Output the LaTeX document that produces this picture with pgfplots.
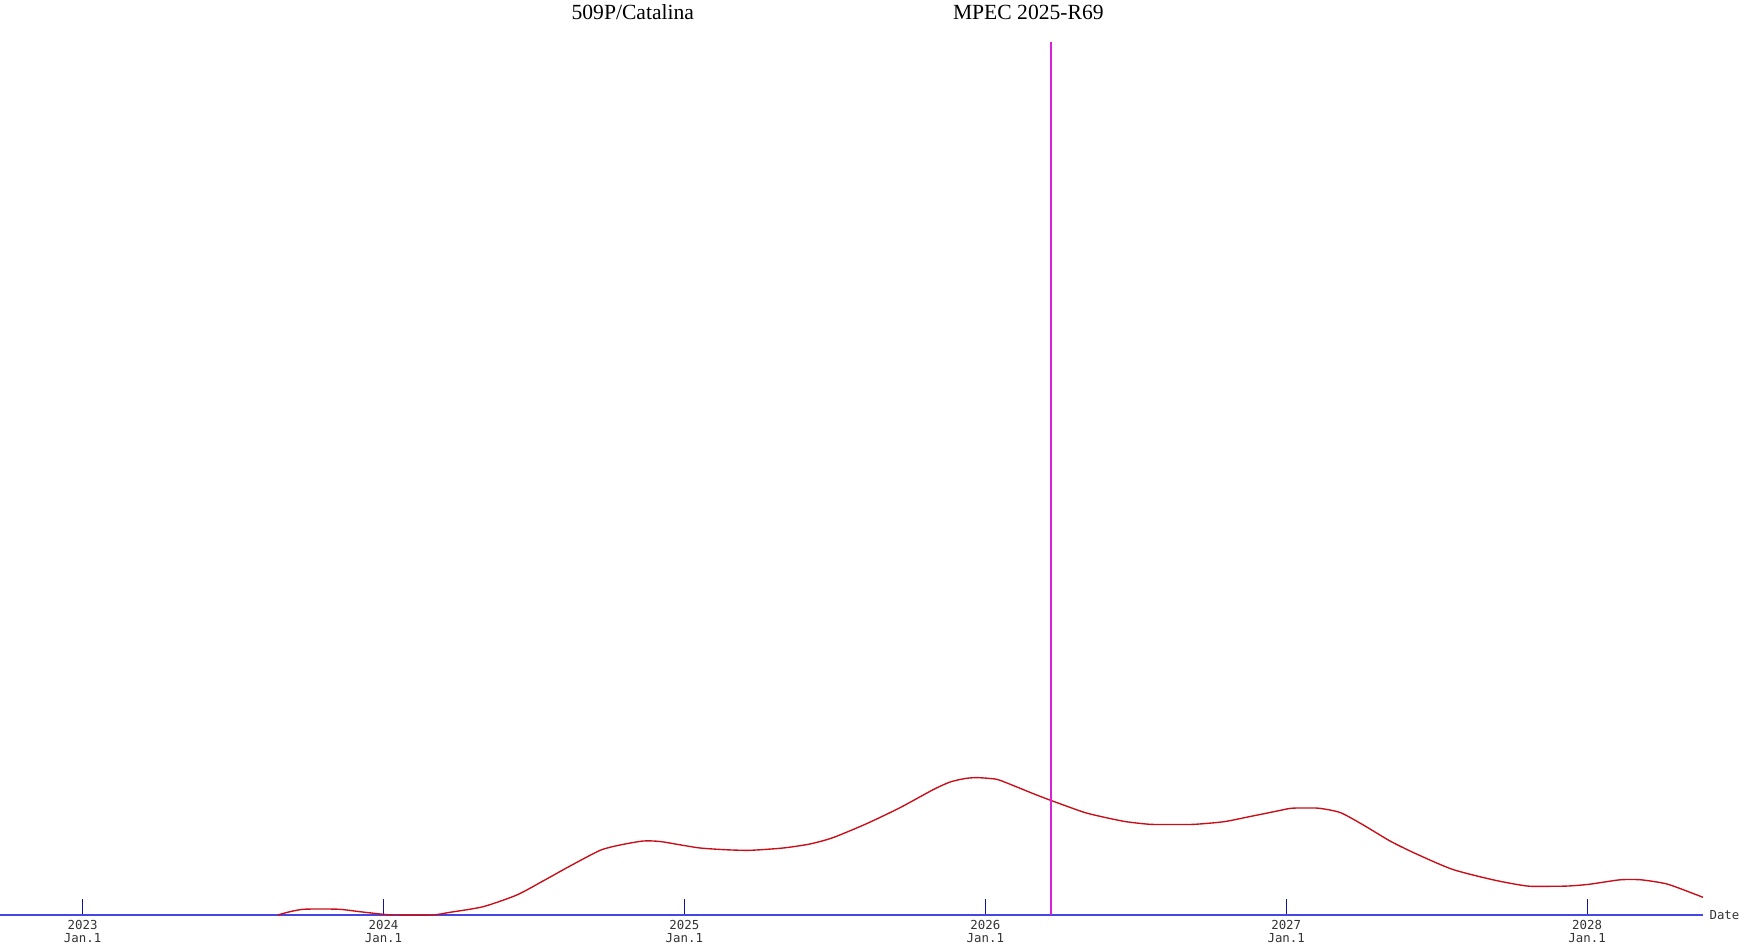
\documentclass[border=0pt]{standalone}
\usepackage{pgfplots}
\pgfplotsset{compat=1.18}
\usepackage{fontspec}
\setmainfont{Liberation Serif}
\newfontfamily\monofont{DejaVu Sans Mono}
\definecolor{axisblue}{RGB}{70,70,230}
\definecolor{tickblue}{RGB}{20,20,150}
\definecolor{curvered}{RGB}{200,15,25}
\definecolor{vmag}{RGB}{215,35,215}
\begin{document}
\begin{tikzpicture}
\begin{axis}[
  at={(0,0)}, anchor=south west,
  scale only axis,
  width=681.2pt, height=349.2pt,
  xmin=2022.7255, xmax=2028.3852,
  ymin=0, ymax=873,
  axis x line*=bottom,
  axis y line=none,
  x axis line style={axisblue, line width=0.45pt},
  xtick={2023,2024,2025,2026,2027,2028},
  xticklabels={{2023\\Jan.1},{2024\\Jan.1},{2025\\Jan.1},{2026\\Jan.1},{2027\\Jan.1},{2028\\Jan.1}},
  xtick align=inside,
  major tick length=6.4pt,
  xtick style={tickblue, line width=0.45pt},
  xticklabel style={anchor=north, align=center, inner sep=0pt, yshift=-2pt,
    font=\fontsize{4.96}{5.2}\selectfont\monofont, text=black!80},
  clip=false,
]
\addplot[curvered, line width=0.55pt, smooth, tension=0.4] coordinates {
(2023.648,0) (2023.689,3.3) (2023.732,5.7) (2023.789,6.0) (2023.855,5.7)
(2023.922,3.3) (2023.999,0.7) (2024.038,0) (2024.161,0) (2024.221,2.7)
(2024.331,8.3) (2024.443,20) (2024.530,34) (2024.620,49)
(2024.720,64.7) (2024.786,70) (2024.863,74) (2024.919,73.5) (2024.995,69.7)
(2025.052,67) (2025.135,65.3) (2025.218,64.7) (2025.328,67) (2025.417,71)
(2025.494,77.4) (2025.606,91.4) (2025.717,107.4) (2025.827,125.4) (2025.883,133)
(2025.933,136.5) (2025.971,137.4) (2026.016,136.5) (2026.049,134.7) (2026.159,121.4)
(2026.217,114.7) (2026.325,103) (2026.381,98.7) (2026.464,93.5) (2026.547,90.7)
(2026.630,90.5) (2026.697,90.7) (2026.793,93.3) (2026.880,98.5) (2026.959,103.3)
(2027.015,106.7) (2027.063,107) (2027.111,106.7) (2027.181,102.3) (2027.262,89)
(2027.345,74) (2027.428,61.7) (2027.552,45.7) (2027.690,35) (2027.800,29)
(2027.877,28.7) (2027.938,29) (2028.006,30.7) (2028.103,35) (2028.143,35.5)
(2028.186,35) (2028.269,30.7) (2028.385,17.7)
};
\addplot[vmag, line width=0.7pt] coordinates {(2026.2174,0) (2026.2174,873)};
\node[anchor=west, inner sep=0pt, font=\fontsize{4.96}{5.2}\selectfont\monofont, text=black!80]
  at (axis cs:2028.3852,0) [xshift=2.4pt] {Date};
\node[anchor=base, inner sep=0pt, font=\fontsize{8.64}{10}\selectfont]
  at (axis cs:2024.8285,896) {509P/Catalina};
\node[anchor=base, inner sep=0pt, font=\fontsize{8.64}{10}\selectfont]
  at (axis cs:2026.1429,896) {MPEC 2025-R69};
\end{axis}
\pgfresetboundingbox
\path (0,-14.4pt) rectangle (700pt,366pt);
\end{tikzpicture}
\end{document}
